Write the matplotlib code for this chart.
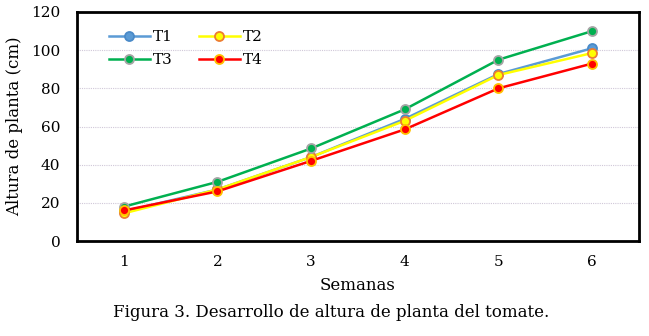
import matplotlib
matplotlib.use("Agg")
import matplotlib.pyplot as plt

semanas = [1, 2, 3, 4, 5, 6]
t1 = [15.5, 27, 44, 64, 87.5, 101]
t2 = [14.5, 27, 44, 63, 87, 98.5]
t3 = [18, 31, 48.5, 69, 95, 110]
t4 = [16, 26, 42, 58.5, 80, 93]

plt.rcParams['font.family'] = ['DejaVu Serif']

fig = plt.figure(figsize=(6.49, 3.36), dpi=100)
ax = fig.add_axes([0.1186, 0.2827, 0.866, 0.6816])

series = [
    ("T1", t1, "#5B9BD5", "#5B9BD5", "#4A8AC8"),
    ("T2", t2, "#FFFF00", "#FFFF00", "#ED7D31"),
    ("T3", t3, "#00B050", "#00B050", "#A5A5A5"),
    ("T4", t4, "#FF0000", "#FF0000", "#FFC000"),
]
handles = {}
for name, vals, lc, fc, ec in series:
    ln, = ax.plot(semanas, vals, color=lc, lw=1.8, marker="o", ms=6.5,
                  mfc=fc, mec=ec, mew=1.3, label=name, zorder=3)
    handles[name] = ln

ax.set_xlim(0.5, 6.5)
ax.set_ylim(0, 120)
ax.set_xticks(semanas)
ax.set_yticks(range(0, 121, 20))
ax.tick_params(length=0, labelsize=11, pad=10)
ax.tick_params(axis="y", pad=12)
for yv in range(20, 120, 20):
    ax.axhline(yv, color="#D0C8D8", lw=0.8, ls=(0, (1, 1)), zorder=1)
for s in ax.spines.values():
    s.set_linewidth(2)
    s.set_color("black")

ax.set_xlabel("Semanas", fontsize=12, labelpad=6)
ax.set_ylabel("Altura de planta (cm)", fontsize=12, labelpad=6)

order = ["T1", "T3", "T2", "T4"]
ax.legend([handles[k] for k in order], order, loc="upper left", ncol=2,
          frameon=False, fontsize=11, bbox_to_anchor=(0.04, 0.96),
          handlelength=2.7, handletextpad=0.2, columnspacing=1.7,
          labelspacing=0.6, borderaxespad=0.2)

fig.text(0.51, 0.07, "Figura 3. Desarrollo de altura de planta del tomate.",
         ha="center", va="center", fontsize=12)

fig.savefig("out.png", dpi=100)
